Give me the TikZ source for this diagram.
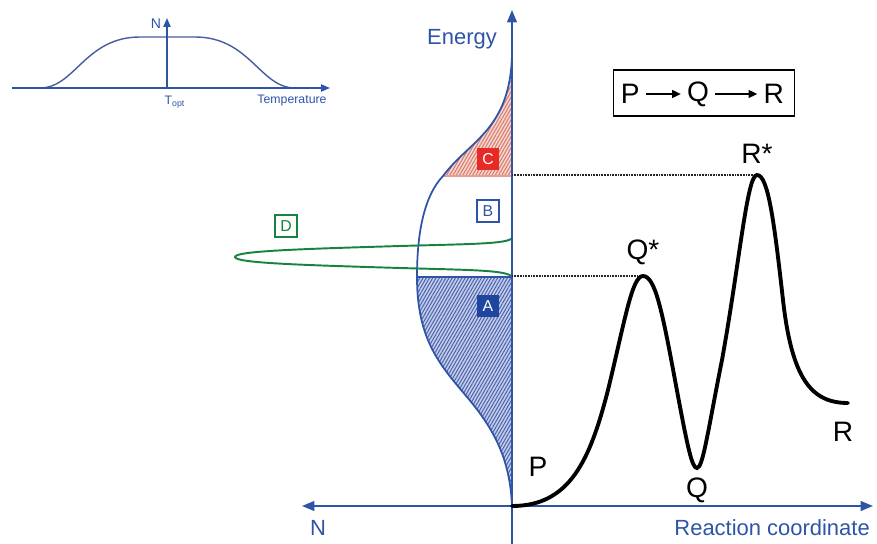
\documentclass[tikz,border=0pt]{standalone}
\usepackage{fontspec}
\setmainfont{Liberation Sans}
\usepackage{xcolor}
\usetikzlibrary{arrows.meta,positioning,fit,patterns.meta}
\definecolor{axblue}{RGB}{46,84,168}
\definecolor{inblue}{RGB}{72,92,160}
\definecolor{boxblue}{RGB}{30,70,158}
\definecolor{dred}{RGB}{232,42,38}
\definecolor{dgreen}{RGB}{24,130,64}
\definecolor{hatchred}{RGB}{218,118,100}
\definecolor{hatchblue}{RGB}{70,96,176}

\begin{document}
\begin{tikzpicture}[
  x=0.02cm,y=-0.02cm,
  ax/.style    ={draw=axblue,line width=1.1pt},
  axtip/.style ={-{Triangle[length=7pt,width=5.5pt]}},
  bothtip/.style={{Triangle[length=7pt,width=5.5pt]}-{Triangle[length=7pt,width=5.5pt]}},
  inax/.style  ={draw=axblue,line width=0.9pt,-{Triangle[length=5pt,width=4pt]}},
  dist/.style  ={draw=axblue,line width=1pt},
  react/.style ={draw=black,line width=2.2pt},
  lvl/.style   ={draw=black!85,line width=0.9pt,dash pattern=on 0.5pt off 0.4pt},
  hatchC/.style={preaction={fill=hatchred!30},
                 pattern={Lines[angle=60,distance=1.6pt,line width=0.55pt]},
                 pattern color=hatchred},
  hatchA/.style={preaction={fill=hatchblue!32},
                 pattern={Lines[angle=60,distance=1.6pt,line width=0.55pt]},
                 pattern color=hatchblue},
  tag/.style   ={rectangle,minimum size=12.5pt,inner sep=0pt,
                 font=\fontsize{9}{10}\selectfont},
  lbl/.style   ={font=\fontsize{16}{18}\selectfont},
  axlbl/.style ={font=\fontsize{12.5}{14}\selectfont,text=axblue},
  inlbl/.style ={font=\fontsize{7}{8}\selectfont,text=axblue},
  rxbox/.style ={rectangle,draw=black,line width=1.1pt,
                 minimum width=103pt,minimum height=26pt},
  rxar/.style  ={-{Triangle[length=5pt,width=4.5pt]},line width=0.9pt}
]
\useasboundingbox (0,0) rectangle (877,544);

\coordinate (ta) at (12,88);
\coordinate (tb) at (330,88);
\coordinate (to) at (167,88);
\coordinate (tn) at (167,18);
\draw[draw=inblue,line width=0.8pt] (ta) -- (40,88)
  .. controls (75,88) and (85,37) .. (140,37) -- (195,37)
  .. controls (250,37) and (260,88) .. (295,88);
\draw[inax] (ta) -- (tb);
\draw[inax] (to) -- (tn);
\node[inlbl,font=\fontsize{8}{9}\selectfont] (tnl) at (156,24) {N};
\node[inlbl] (tol) at (175,102) {T\textsubscript{opt}};
\node[inlbl] (ttl) at (292,101) {Temperature};

\coordinate (o)    at (512,506);
\coordinate (etop) at (512,10);
\coordinate (ebot) at (512,546);
\coordinate (nl)   at (302,506);
\coordinate (rc)   at (873,506);
\coordinate (d0) at (512,55);
\coordinate (d1) at (443,176);
\coordinate (d2) at (417,277);
\coordinate (d3) at (467,397);

\path[hatchC] (d0) .. controls (510,130) and (470,140) .. (d1) -- (o |- d1) -- cycle;
\path[hatchA] (d2) .. controls (417,340) and (440,365) .. (d3)
  .. controls (495,430) and (510,460) .. (o) -- (o |- d2) -- cycle;
\draw[draw=hatchred!70,line width=0.8pt] (d1) -- (o |- d1);
\draw[dist] (d2) -- (o |- d2);
\draw[dist] (d0) .. controls (510,130) and (470,140) .. (d1)
  .. controls (425,195) and (417,230) .. (d2)
  .. controls (417,340) and (440,365) .. (d3)
  .. controls (495,430) and (510,460) .. (o);

\draw[draw=dgreen,line width=1.1pt] (512,238)
  .. controls (508,244) and (470,244) .. (400,246)
  .. controls (300,249) and (235,251) .. (235,257)
  .. controls (235,263) and (300,265) .. (400,268)
  .. controls (470,270) and (508,270) .. (o |- d2);

\node[tag,fill=dred,text=white] (tc) at (488,159) {C};
\node[tag,draw=axblue,fill=white,text=axblue,line width=0.9pt] (tbb) at (488,211) {B};
\node[tag,fill=boxblue,text=white] (tab) at (488,306) {A};
\node[tag,draw=dgreen,fill=white,text=dgreen,line width=0.9pt] (tdd) at (286,226) {D};

\draw[ax,axtip] (ebot) -- (etop);
\draw[ax,bothtip] (nl) -- (rc);
\node[axlbl] (enl) at (462,39) {Energy};
\node[axlbl] (nlb) at (318,528) {N};
\node[axlbl,anchor=east] (rcl) at (876,528) {Reaction coordinate};

\coordinate (qs) at (643,276);
\coordinate (qm) at (697,468);
\coordinate (rs) at (757,175);
\coordinate (re) at (848,403);
\foreach \c in {qs,rs}
  \draw[lvl] (o |- \c) -- (\c);
\draw[react,line cap=round] (o) .. controls (570,506) and (590,460) .. (608,390)
  .. controls (625,320) and (632,276) .. (qs)
  .. controls (655,276) and (662,310) .. (675,380)
  .. controls (688,450) and (692,468) .. (qm)
  .. controls (703,468) and (708,430) .. (722,360)
  .. controls (740,260) and (747,175) .. (rs)
  .. controls (768,175) and (774,220) .. (783,300)
  .. controls (792,380) and (812,403) .. (re);
\node[lbl] (lp) at (538,467) {P};
\node[lbl,above=3pt of qs] (lqs) {Q*};
\node[lbl] (lq) at (697,490) {Q};
\node[lbl,above=3pt of rs] (lrs) {R*};
\node[lbl] (lr) at (843,432) {R};

\node[rxbox] (eq) at (704,93) {};
\node[lbl] (bq) at (698,94) {Q};
\node[lbl,left=20pt of bq] (bp) {P};
\node[lbl,right=24pt of bq] (br) {R};
\draw[rxar] (bp) -- (bq);
\draw[rxar] (bq) -- (br);
\end{tikzpicture}
\end{document}
